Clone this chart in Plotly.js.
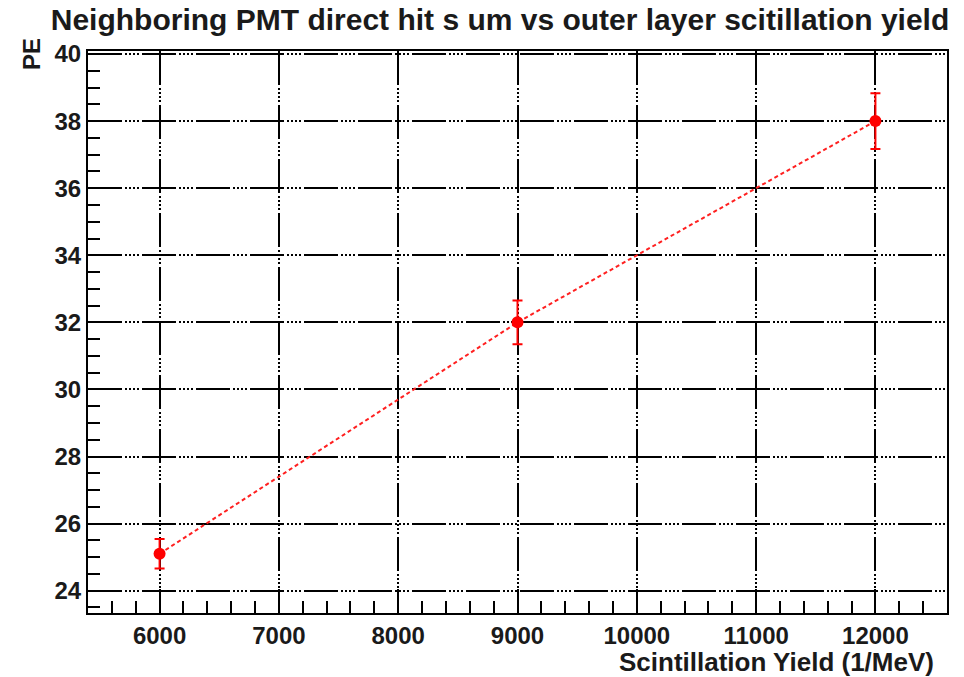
<!DOCTYPE html>
<html>
<head>
<meta charset="utf-8">
<script src="https://cdn.plot.ly/plotly-3.0.1.min.js"></script>
<style>
  html, body { margin: 0; padding: 0; background: #fff; }
  #chart { width: 964px; height: 677px; }
</style>
</head>
<body>
<div id="chart"></div>
<script>
// Scintillation yield (1/MeV) and summed photoelectrons with their errors
const yieldValues = [6000, 9000, 12000];
const peValues = [25.1, 32.0, 38.0];
const peErrors = [0.44, 0.65, 0.83];

const xTickValues = [6000, 7000, 8000, 9000, 10000, 11000, 12000];
const xTickLabels = ['6000', '7000', '8000', '9000', '10000', '11000', '12000'];
const yTickValues = [24, 26, 28, 30, 32, 34, 36, 38, 40];
const yTickLabels = ['24', '26', '28', '30', '32', '34', '36', '38', '40'];

const gridDash = '34px,3px,2px,2px,2px,2px,2px,2px,2px,3px';
const fontFamily = 'Liberation Sans, Arial, sans-serif';
const labelFont = { family: fontFamily, size: 24, color: '#1a1a1a', weight: 'bold' };

const trace = {
  x: yieldValues,
  y: peValues,
  type: 'scatter',
  mode: 'lines+markers',
  line: { color: '#ff2020', width: 2, dash: '4px,3px' },
  marker: { color: '#ff0000', size: 12, symbol: 'circle' },
  error_y: { type: 'data', array: peErrors, visible: true, color: '#ff0000', thickness: 2, width: 5 },
  hoverinfo: 'x+y'
};

const commonAxis = {
  showline: true,
  linecolor: '#000',
  linewidth: 2,
  mirror: true,
  ticks: 'inside',
  tickcolor: '#000',
  tickwidth: 2,
  showgrid: true,
  gridcolor: '#000',
  gridwidth: 2,
  griddash: gridDash,
  zeroline: false,
  tickfont: labelFont
};

const layout = {
  width: 964,
  height: 677,
  margin: { l: 88, r: 17, t: 51, b: 64 },
  paper_bgcolor: '#fff',
  plot_bgcolor: '#fff',
  showlegend: false,
  title: {
    text: 'Neighboring PMT direct hit s um vs outer layer scitillation yield',
    font: { family: fontFamily, size: 30, color: '#1a1a1a', weight: 'bold' },
    x: 500 / 964,
    xanchor: 'center',
    xref: 'container',
    y: 1 - 19 / 677,
    yref: 'container',
    yanchor: 'middle'
  },
  xaxis: Object.assign({}, commonAxis, {
    range: [5400, 12600],
    tickmode: 'array',
    tickvals: xTickValues,
    ticktext: xTickLabels,
    ticklen: 24,
    minor: { dtick: 200, ticks: 'inside', ticklen: 12, tickcolor: '#000', tickwidth: 2, showgrid: false }
  }),
  yaxis: Object.assign({}, commonAxis, {
    range: [23.335, 40.09],
    tickmode: 'array',
    tickvals: yTickValues,
    ticktext: yTickLabels,
    ticklen: 24,
    minor: { dtick: 0.5, ticks: 'inside', ticklen: 12, tickcolor: '#000', tickwidth: 2, showgrid: false }
  }),
  annotations: [
    {
      text: 'Scintillation Yield (1/MeV)',
      xref: 'paper', yref: 'paper',
      x: (936 - 88) / 859, xanchor: 'right',
      y: (613 - 662) / 562, yanchor: 'middle',
      showarrow: false,
      font: { family: fontFamily, size: 26, color: '#1a1a1a', weight: 'bold' }
    },
    {
      text: 'PE',
      textangle: -90,
      xref: 'paper', yref: 'paper',
      x: (32 - 88) / 859, xanchor: 'center',
      y: (613 - 36) / 562, yanchor: 'top',
      showarrow: false,
      font: { family: fontFamily, size: 24, color: '#1a1a1a', weight: 'bold' }
    }
  ]
};

Plotly.newPlot('chart', [trace], layout, { displayModeBar: false, staticPlot: true });
</script>
</body>
</html>
